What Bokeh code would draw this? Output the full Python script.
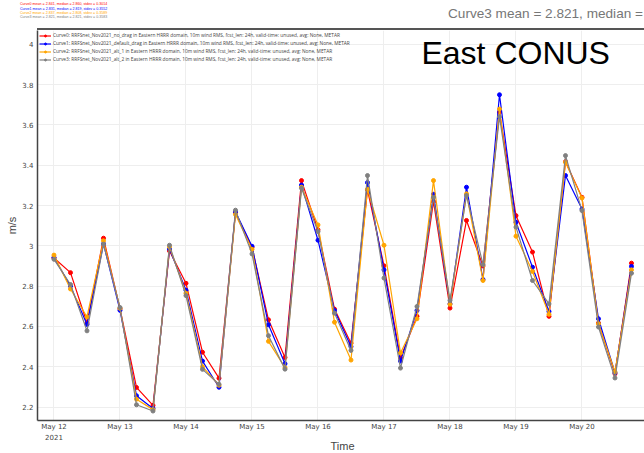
import pandas as pd
from bokeh.plotting import figure
from bokeh.layouts import column
from bokeh.models import (DaysTicker, DatetimeTickFormatter, FixedTicker, Div,
                          CustomJSTickFormatter, Range1d, Label, Legend)
from bokeh.core.properties import value
from bokeh.embed import file_html
from bokeh.resources import INLINE

# ---------------- data ----------------
times = pd.date_range("2021-05-12 00:00", periods=36, freq="6h")

curve0 = [2.94, 2.867, 2.617, 3.038, 2.688, 2.297, 2.208, 2.975, 2.814, 2.472, 2.343, 3.164,
          2.993, 2.633, 2.446, 3.324, 3.08, 2.686, 2.517, 3.278, 2.901, 2.443, 2.65, 3.22,
          2.691, 3.126, 2.90, 3.663, 3.15, 2.969, 2.65, 3.418, 3.241, 2.617, 2.365, 2.914]
curve1 = [2.942, 2.80, 2.61, 3.01, 2.68, 2.256, 2.193, 2.984, 2.78, 2.428, 2.298, 3.169,
          2.998, 2.608, 2.415, 3.302, 3.028, 2.679, 2.50, 3.314, 2.881, 2.428, 2.679, 3.256,
          2.712, 3.291, 2.833, 3.75, 3.117, 2.894, 2.674, 3.349, 3.183, 2.638, 2.37, 2.898]
curve2 = [2.954, 2.786, 2.647, 3.025, 2.69, 2.239, 2.187, 2.995, 2.765, 2.40, 2.308, 3.156,
          2.983, 2.526, 2.395, 3.291, 3.104, 2.621, 2.433, 3.281, 3.003, 2.468, 2.638, 3.324,
          2.71, 3.258, 2.828, 3.679, 3.048, 2.873, 2.66, 3.415, 3.238, 2.613, 2.374, 2.881]
curve3 = [2.933, 2.808, 2.578, 3.008, 2.694, 2.211, 2.18, 3.003, 2.753, 2.387, 2.313, 3.177,
          2.96, 2.554, 2.388, 3.286, 3.071, 2.666, 2.481, 3.349, 2.84, 2.393, 2.699, 3.241,
          2.729, 3.25, 2.907, 3.641, 3.093, 2.828, 2.712, 3.448, 3.175, 2.597, 2.344, 2.864]

series = [curve0, curve1, curve2, curve3]
colors = ["#ff0000", "#0000ff", "#ffa500", "#808080"]
legend_labels = [
    "Curve0: RRFSnet_Nov2021_no_drag in Eastern HRRR domain, 10m wind RMS, fcst_len: 24h, valid-time: unused, avg: None, METAR",
    "Curve1: RRFSnet_Nov2021_default_drag in Eastern HRRR domain, 10m wind RMS, fcst_len: 24h, valid-time: unused, avg: None, METAR",
    "Curve2: RRFSnet_Nov2021_alt_1 in Eastern HRRR domain, 10m wind RMS, fcst_len: 24h, valid-time: unused, avg: None, METAR",
    "Curve3: RRFSnet_Nov2021_alt_2 in Eastern HRRR domain, 10m wind RMS, fcst_len: 24h, valid-time: unused, avg: None, METAR",
]
stats_labels = [
    "Curve0 mean = 2.841, median = 2.860, stdev = 0.3014",
    "Curve1 mean = 2.831, median = 2.819, stdev = 0.3552",
    "Curve2 mean = 2.837, median = 2.808, stdev = 0.3589",
    "Curve3 mean = 2.821, median = 2.821, stdev = 0.3583",
]
big_stats = "Curve3 mean = 2.821, median ="
title_text = "East CONUS"
year_text = "2021"
x_title = "Time"
y_title = "m/s"
y_ticks = [2.2, 2.4, 2.6, 2.8, 3.0, 3.2, 3.4, 3.6, 3.8, 4.0]
x_start = pd.Timestamp("2021-05-11 18:00")
x_end = pd.Timestamp("2021-05-20 22:44")
y_start, y_end = 2.133, 4.069

W = 644
LEFT, BOTTOM = 37, 13
HEAD_H, MAIN_H, FOOT_H = 30, 390 + BOTTOM, 20

# ---------------- header (plain page text above the chart) ----------------
row_centers = [4.3, 8.7, 13.2, 17.6]
parts = ['<div style="position:relative;width:%dpx;height:%dpx;overflow:hidden;'
         'background:white;margin:0;padding:0;">' % (W, HEAD_H)]
for txt, col, yc in zip(stats_labels, colors, row_centers):
    parts.append('<span style="position:absolute;left:20px;top:%.1fpx;height:4.4px;'
                 'line-height:4.4px;font-family:\'Liberation Sans\';font-size:3.6px;'
                 'color:%s;white-space:nowrap;">%s</span>' % (yc - 2.2, col, txt))
parts.append('<span style="position:absolute;left:448px;top:6px;line-height:15px;'
             'font-family:\'Liberation Sans\';font-size:13.6px;color:#777777;'
             'white-space:nowrap;">%s</span>' % big_stats)
parts.append('<div style="position:absolute;left:%dpx;top:28px;width:%dpx;height:2px;'
             'background:#555555;"></div>' % (LEFT, W - LEFT))
parts.append('</div>')
head = Div(text="".join(parts), width=W, height=HEAD_H, margin=0)

# ---------------- main chart ----------------
p = figure(width=W, height=MAIN_H, x_axis_type="datetime",
           output_backend="svg", toolbar_location=None,
           x_range=Range1d(x_start, x_end), y_range=Range1d(y_start, y_end),
           min_border_left=LEFT, min_border_right=0, min_border_top=0,
           min_border_bottom=BOTTOM)
p.outline_line_color = None
p.background_fill_color = "white"
p.border_fill_color = "white"

items = []
for vals, col, lab in zip(series, colors, legend_labels):
    l = p.line(times, vals, line_color=col, line_width=1.2)
    c = p.scatter(times, vals, size=4, fill_color=col, line_color=col)
    items.append((lab, [l, c]))

legend = Legend(items=items, location="top_left")
legend.label_text_font = "Open Sans"
legend.label_text_font_size = "4.8px"
legend.label_text_color = "#444"
legend.label_height = 5
legend.glyph_height = 5
legend.glyph_width = 12
legend.label_standoff = 2
legend.spacing = 2
legend.padding = 2
legend.margin = 2
legend.border_line_color = None
legend.background_fill_alpha = 0.0
p.add_layout(legend)

xa = p.xaxis[0]
xa.ticker = DaysTicker(days=list(range(1, 32)))
xa.formatter = DatetimeTickFormatter(days="%b %d", months="%b %d", hours="%b %d")
ya = p.yaxis[0]
ya.ticker = FixedTicker(ticks=y_ticks)
ya.formatter = CustomJSTickFormatter(code="return (Math.round(tick*10)/10).toString();")

for ax in (xa, ya):
    ax.axis_line_color = "#444"
    ax.axis_line_width = 1.5
    ax.major_tick_out = 0
    ax.major_tick_in = 0
    ax.minor_tick_out = 0
    ax.minor_tick_in = 0
    ax.major_label_text_font = "DejaVu Sans"
    ax.major_label_text_font_size = "7px"
    ax.major_label_text_color = "#444"
    ax.axis_label_text_font = "Liberation Sans"
    ax.axis_label_text_font_size = "11px"
    ax.axis_label_text_font_style = "normal"
    ax.axis_label_text_color = "#444"
ya.axis_label = y_title
xa.major_label_standoff = 2
ya.major_label_standoff = 4
ya.axis_label_standoff = 1

p.xgrid.grid_line_color = "#eeeeee"
p.ygrid.grid_line_color = "#eeeeee"
p.xgrid.ticker = xa.ticker
p.ygrid.ticker = ya.ticker

p.add_layout(Label(x=pd.Timestamp("2021-05-17 13:38"), y=3.955, text=title_text,
                   text_font="Liberation Sans", text_font_size="32px", text_color="black",
                   text_baseline="alphabetic"))

# ---------------- footer ----------------
# frames in a column are aligned with the main chart's frame (x from LEFT to W)
foot = figure(width=W, height=FOOT_H, x_range=Range1d(LEFT, W), y_range=Range1d(FOOT_H, 0),
              x_axis_type=None, y_axis_type=None, output_backend="svg",
              toolbar_location=None, min_border=0, min_border_left=LEFT)
foot.outline_line_color = None
foot.grid.visible = False
foot.background_fill_color = "white"
foot.border_fill_color = "white"
foot.text(x=[53.5], y=[3.6], text=[year_text], text_color="#444",
          text_font=value("DejaVu Sans"), text_font_size="7px",
          text_align="center", text_baseline="middle")
foot.text(x=[342], y=[12], text=[x_title], text_color="#444",
          text_font=value("Liberation Sans"), text_font_size="11px",
          text_align="center", text_baseline="middle")

layout = column(head, p, foot, spacing=0)
open("out.html", "w").write(file_html(layout, INLINE))
